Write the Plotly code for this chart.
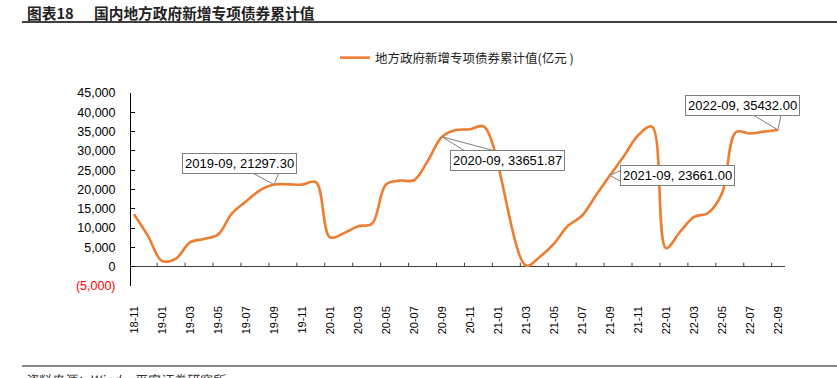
import plotly.graph_objects as go

# ---------------- data ----------------
months = ["18-11", "18-12",
          "19-01", "19-02", "19-03", "19-04", "19-05", "19-06", "19-07", "19-08", "19-09", "19-10", "19-11", "19-12",
          "20-01", "20-02", "20-03", "20-04", "20-05", "20-06", "20-07", "20-08", "20-09", "20-10", "20-11", "20-12",
          "21-01", "21-02", "21-03", "21-04", "21-05", "21-06", "21-07", "21-08", "21-09", "21-10", "21-11", "21-12",
          "22-01", "22-02", "22-03", "22-04", "22-05", "22-06", "22-07", "22-08", "22-09"]

values = [13600, 8000,
          1500, 2100, 6300, 7200, 8300, 13800, 16900, 19800, 21297.30, 21330, 21260, 21900,
          7600, 8700, 10500, 11100, 21300, 22300, 22400, 27500, 33651.87, 35400, 35600, 36300,
          None, None, 300, 2600, 6000, 10600, 13200, 18500, 23661.00, 28700, 34000, 36300,
          4800, 9000, 12900, 13900, 19000, 34900, 34500, 35000, 35432.00]

series_name = "地方政府新增专项债券累计值(亿元 )"

y_tick_values = [-5000, 0, 5000, 10000, 15000, 20000, 25000, 30000, 35000, 40000, 45000]
y_tick_labels = ['<span style="color:#FF0000">(5,000)</span>', "0", "5,000", "10,000", "15,000",
                 "20,000", "25,000", "30,000", "35,000", "40,000", "45,000"]

x_tick_labels = months[::2]

callout_months = ["19-09", "20-09", "21-09", "22-09"]
callout_texts = ["2019-09, 21297.30", "2020-09, 33651.87", "2021-09, 23661.00", "2022-09, 35432.00"]

title_prefix = "图表18"
title_text = "国内地方政府新增专项债券累计值"
source_text = "资料来源：Wind，平安证券研究所"

# ---------------- layout geometry (pixels) ----------------
W, H = 837, 378
L, R, T, B = 131, 52, 93, 92
PW, PH = W - L - R, H - T - B


def px_x(p):
    return (p - L) / PW


def px_y(p):
    return (H - B - p) / PH


x_idx = list(range(len(months)))

fig = go.Figure()
fig.add_trace(go.Scatter(
    x=x_idx, y=values, mode="lines", name=series_name,
    line=dict(color="#ED7D31", width=2.6, shape="spline", smoothing=1.0),
    connectgaps=True, showlegend=True,
))

shapes = []
# x-axis tick marks on the zero line (pointing up)
for k in range(23):
    xt = 1.66 + 1.995 * k
    shapes.append(dict(type="line", xref="x", yref="y", ysizemode="pixel", yanchor=0,
                       x0=xt, x1=xt, y0=0, y1=4, line=dict(color="#404040", width=1)))

# callout wedges (pixel offsets relative to the data point)
wedges = [
    "M0,0 L-26,14 L6,14 Z",
    "M0,0 L26,-16 L60,-16 Z",
    "M0,0 L11,5 L11,-6 Z",
    "M0,0 L-25,15 L3,15 Z",
]
offsets = [(-34, -21), (66, 24), (68, 0), (-36, -24)]

annotations = []
for m, txt, wpath, (ax, ay) in zip(callout_months, callout_texts, wedges, offsets):
    i = months.index(m)
    shapes.append(dict(type="path", xref="x", yref="y", xsizemode="pixel", ysizemode="pixel",
                       xanchor=i, yanchor=values[i], path=wpath,
                       fillcolor="white", line=dict(color="#7F7F7F", width=1), layer="above"))
    annotations.append(dict(x=i, y=values[i], xref="x", yref="y", text=txt,
                            showarrow=True, arrowcolor="rgba(0,0,0,0)", ax=ax, ay=ay,
                            font=dict(family="Liberation Sans, Arial", size=13, color="#000"),
                            bgcolor="white", bordercolor="#7F7F7F", borderwidth=1, borderpad=2))

# title underline and bottom rule
shapes.append(dict(type="line", xref="paper", yref="paper", x0=px_x(22), x1=px_x(837),
                   y0=px_y(22), y1=px_y(22), line=dict(color="#404040", width=2)))
shapes.append(dict(type="line", xref="paper", yref="paper", x0=px_x(22), x1=px_x(837),
                   y0=px_y(366), y1=px_y(366), line=dict(color="#606060", width=1.5)))

annotations.append(dict(xref="paper", yref="paper", x=px_x(25), y=px_y(12), xanchor="left", yanchor="middle",
                        text="<b>" + title_prefix + "</b>", showarrow=False,
                        font=dict(family="Noto Sans CJK SC", size=14.7, color="#222")))
annotations.append(dict(xref="paper", yref="paper", x=px_x(92), y=px_y(12), xanchor="left", yanchor="middle",
                        text="<b>" + title_text + "</b>", showarrow=False,
                        font=dict(family="Noto Sans CJK SC", size=14.7, color="#222")))
annotations.append(dict(xref="paper", yref="paper", x=px_x(22), y=px_y(368), xanchor="left", yanchor="top",
                        text=source_text, showarrow=False,
                        font=dict(family="Noto Sans CJK SC", size=13, color="#333", style="italic")))

fig.update_layout(
    width=W, height=H, autosize=False,
    margin=dict(l=L, r=R, t=T, b=B, pad=0),
    paper_bgcolor="white", plot_bgcolor="white",
    font=dict(family="Liberation Sans, Arial", color="#000"),
    shapes=shapes, annotations=annotations,
    legend=dict(x=px_x(335), y=px_y(58), xanchor="left", yanchor="middle",
                orientation="h", bgcolor="rgba(0,0,0,0)",
                font=dict(family="Noto Sans CJK SC", size=12.5, color="#222")),
    xaxis=dict(range=[-0.21, 46.5], tickmode="array", tickvals=x_idx[::2], ticktext=x_tick_labels,
               tickangle=-90, ticks="", showline=False, showgrid=False, zeroline=False,
               ticklabelstandoff=17, tickfont=dict(size=11, color="#000")),
    yaxis=dict(range=[-5000, 45000], tickmode="array", tickvals=y_tick_values, ticktext=y_tick_labels,
               ticks="inside", ticklen=4, tickcolor="#000", showline=True, linecolor="#000", linewidth=1,
               showgrid=False, zeroline=True, zerolinecolor="#404040", zerolinewidth=1,
               ticklabelstandoff=12, tickfont=dict(size=12.5, color="#000")),
)

fig.write_html("out.html", config={"displayModeBar": False},
               post_script="document.body.style.margin='0';document.body.style.padding='0';")
